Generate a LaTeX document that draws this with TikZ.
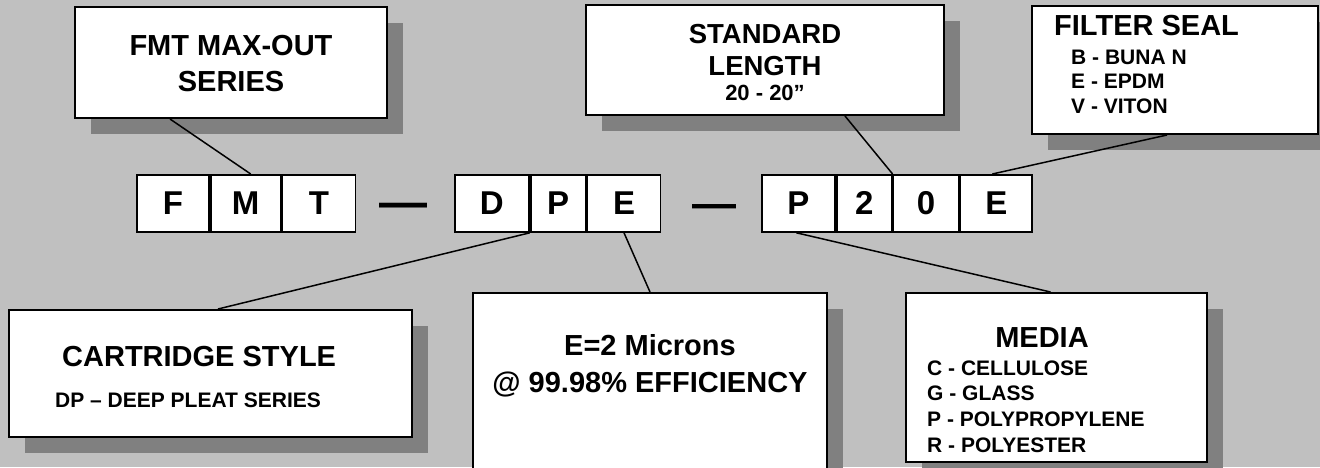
\documentclass[tikz,border=0pt]{standalone}
\usepackage{fontspec}
\setmainfont{Liberation Sans}
\usetikzlibrary{positioning, shadows}
\definecolor{panel}{HTML}{C0C0C0}
\definecolor{shade}{HTML}{808080}

\begin{document}
\begin{tikzpicture}[x=1pt, y=-1pt]
\tikzset{
  card/.style={
    draw,
    line width=2pt,
    fill=white,
    inner sep=0pt,
    drop shadow={shadow xshift=16pt, shadow yshift=-16pt, fill=shade, opacity=1}
  },
  letter/.style={
    draw,
    line width=1.8pt,
    fill=white,
    inner sep=0pt,
    minimum height=57pt,
    font=\fontsize{33}{33}\selectfont\bfseries
  },
  head/.style={inner sep=0pt, align=center, font=\fontsize{29}{36.5}\selectfont\bfseries},
  items/.style={inner sep=0pt, align=left, font=\fontsize{21}{25}\selectfont\bfseries},
  sep/.style={inner sep=0pt, anchor=base west, font=\fontsize{48}{48}\selectfont\bfseries},
  link/.style={line width=1.5pt}
}
% Background
\useasboundingbox (0,0) rectangle (1320,467);
\clip (0,0) rectangle (1320,467);
\fill[panel] (0,0) rectangle (1320,467);

% Callout boxes
\node[card, minimum width=312pt, minimum height=111pt] (series) at (231,62.5) {};
\node[card, minimum width=358pt, minimum height=110pt] (length) at (765,60) {};
\node[card, minimum width=286pt, minimum height=128pt] (seal) at (1175,70) {};
\node[card, minimum width=403pt, minimum height=127pt] (style) at (210.5,373.5) {};
\node[card, minimum width=354pt, minimum height=200pt] (micron) at (650,393) {};
\node[card, minimum width=301pt, minimum height=169pt] (media) at (1056.5,377.5) {};

% Code letters
\node[letter, minimum width=72pt, anchor=north west] (cF) at (136,174) {F};
\node[letter, minimum width=70pt, right=0pt of cF] (cM) {M};
\node[letter, minimum width=73pt, right=0pt of cM] (cT) {T};

\node[letter, minimum width=74pt, anchor=north west] (cD) at (454,174) {D};
\node[letter, minimum width=55pt, right=0pt of cD] (cP) {P};
\node[letter, minimum width=73pt, right=0pt of cP] (cE) {E};

\node[letter, minimum width=73pt, anchor=north west] (mP) at (761,174) {P};
\node[letter, minimum width=55pt, right=0pt of mP] (m2) {2};
\node[letter, minimum width=65pt, right=0pt of m2] (m0) {0};
\node[letter, minimum width=72pt, right=0pt of m0] (mE) {E};

% Dashes between groups
\node[sep] (dash1) at (379,218) {—};
\node[sep, font=\fontsize{44}{44}\selectfont\bfseries] (dash2) at (692,218.5) {—};

% Box texts
\node[head] (seriestxt) at (231,63.5) {FMT MAX-OUT\\SERIES};
\node[head, font=\fontsize{27.5}{32}\selectfont\bfseries] (lengthtxt) at (765,50) {STANDARD\\LENGTH};
\node[items, font=\fontsize{22}{22}\selectfont\bfseries] (lengthval) at (765,92.5) {20 - 20”};
\node[head, anchor=west] (sealtxt) at (1054,26) {FILTER SEAL};
\node[items, anchor=west, font=\fontsize{21}{24.5}\selectfont\bfseries] (sealval) at (1071,81.5) {B - BUNA N\\E - EPDM\\V - VITON};
\node[head, anchor=west] (styletxt) at (62,357) {CARTRIDGE STYLE};
\node[items, anchor=west] (styleval) at (55,400) {DP – DEEP PLEAT SERIES};
\node[head] (microntxt) at (650,366) {E=2 Microns\\@ 99.98\% EFFICIENCY};
\node[head] (mediatxt) at (1042,337.5) {MEDIA};
\node[items, anchor=west, font=\fontsize{21}{25.7}\selectfont\bfseries] (mediaval) at (927,406.5) {C - CELLULOSE\\G - GLASS\\P - POLYPROPYLENE\\R - POLYESTER};

% Leader lines
\draw[link] ([xshift=-61pt]series.south) -- ([xshift=5pt]cM.north);
\draw[link] ([xshift=80pt]length.south) -- (m2.north east);
\draw[link] ([xshift=-8pt]seal.south) -- ([xshift=-4pt]mE.north);
\draw[link] (cD.south east) -- ([xshift=7.5pt]style.north);
\draw[link] (cE.south) -- (micron.north);
\draw[link] ([xshift=-2pt]mP.south) -- ([xshift=-6pt]media.north);

\end{tikzpicture}
\end{document}
